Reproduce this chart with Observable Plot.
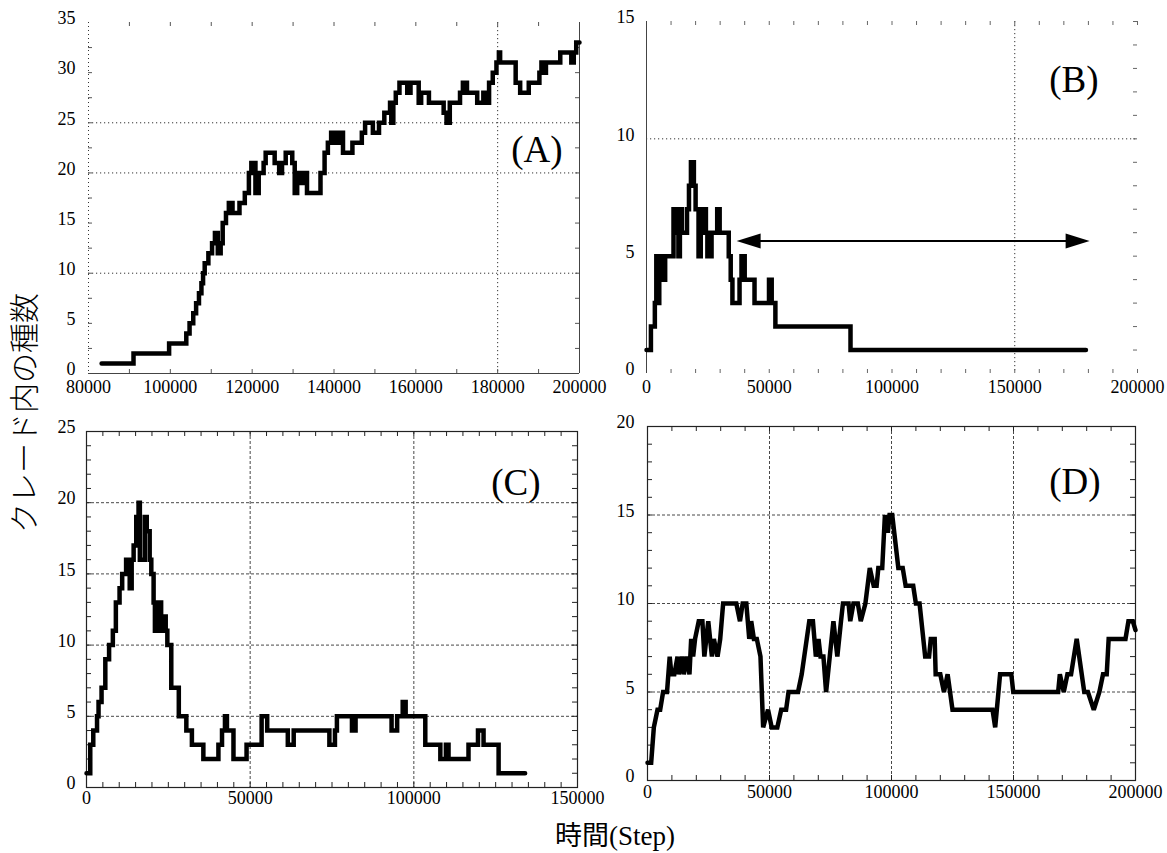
<!DOCTYPE html>
<html><head><meta charset="utf-8">
<script src="https://cdn.jsdelivr.net/npm/d3@7"></script>
<script src="https://cdn.jsdelivr.net/npm/@observablehq/plot@0.6"></script>
<style>
body{margin:0;background:#fff;}
#wrap{position:relative;width:1167px;height:853px;overflow:hidden;background:#fff;}
.panel{position:absolute;}
.panel svg text{font-family:"Liberation Serif",serif !important;}
#ytitle{position:absolute;left:22px;top:413px;transform:translate(-50%,-50%) rotate(-90deg);font-family:"Noto Sans CJK JP",sans-serif;font-size:30px;font-weight:300;white-space:nowrap;color:#000;}
#xtitle{position:absolute;left:615px;top:833px;transform:translate(-50%,-50%);font-family:"Liberation Serif","Noto Sans CJK JP",serif;font-size:27px;white-space:nowrap;color:#000;}
</style></head>
<body>
<div id="wrap">
  <div id="ytitle">クレード内の種数</div>
  <div id="xtitle">時間(Step)</div>
</div>
<script>
// ---------- data ----------
const aStep = [83200,91000,99700,103900,104700,105600,106300,107000,107600,108000,108400,109300,110200,110900,111600,112300,112800,113600,114300,115200,116900,118200,119200,119800,120800,121600,122800,123300,125500,126600,127300,128200,129800,130400,131000,131800,132600,133400,136700,137700,138500,139300,140100,141200,142200,144500,146800,147600,149500,151000,152300,153700,154000,154500,155100,156000,157900,158700,160700,161300,163200,166800,167500,168300,170800,171500,172500,175000,176500,177000,177900,178800,179700,180300,180600,184400,185500,187600,190200,190700,191100,191800,195300,198000,198600,199200,200000];
const aCount = [1,2,3,4,5,6,7,8,9,10,11,12,13,14,12,13,15,16,17,16,17,18,20,21,18,20,21,22,21,20,21,22,21,18,20,19,20,18,20,22,23,24,23,24,22,23,24,25,24,25,26,27,25,27,28,29,28,29,27,28,27,26,25,27,28,29,28,27,28,27,29,30,31,32,31,29,28,29,30,31,30,31,32,31,32,33,33];

const bStep = [0,1800,3400,4000,4600,5200,5800,6400,7000,7600,11000,12000,12600,13000,13600,14400,16500,17300,18100,19300,20000,21200,22100,23000,24200,24800,26500,28800,29800,33500,34300,35000,37900,38700,40000,44000,49900,51000,52500,83100,179000];
const bCount = [1,2,3,5,3,5,4,5,4,5,7,6,7,5,7,6,7,8,9,8,7,5,6,7,6,5,6,7,6,5,4,3,4,5,4,3,4,3,2,1,1];
const bArrow = {x1: 36700, x2: 180500, y: 5.65};

const cStep = [0,1150,2070,3220,3680,4600,5750,6900,8050,8970,10100,10900,12100,13200,13800,14400,15200,15900,16300,17800,18400,19300,19800,20500,20900,22100,22800,23200,24200,24700,25900,28200,30500,32200,35700,40300,41400,42300,42900,44900,48900,53500,55200,61500,63300,74200,75900,76500,81100,82200,93200,94900,96600,97500,103500,108100,109800,110600,116700,119600,121300,125900,134000];
const cCount = [1,3,4,5,6,7,9,10,11,13,14,15,16,14,16,17,19,20,16,19,18,16,15,13,11,13,11,12,11,10,7,5,4,3,2,3,4,5,4,2,3,5,4,3,4,3,4,5,4,5,4,5,6,5,3,2,3,2,3,4,3,1,1];

const dStep = [0,1500,2600,4100,5200,6400,8000,9100,9800,11000,12300,12900,14100,14900,16000,17200,17900,18700,19500,21000,22500,23300,24900,26400,27200,28700,29800,31000,36400,37900,39000,40500,41700,42500,43600,44800,46300,47400,49400,50900,53200,54800,56800,57800,61700,63200,66300,67800,69000,70100,70900,72100,73200,74700,76200,77800,79300,80100,82400,83100,84400,86200,87400,89300,91100,92700,93900,94600,96200,97300,98500,99200,100300,102800,104600,105800,108900,110000,111500,113800,115400,116100,117700,118100,120000,121500,123000,125000,141400,142500,144500,149100,149900,168300,169000,170600,172100,173600,175900,179000,180500,182900,185200,186700,188200,189000,195900,197100,198900,200000];
const dCount = [1,1,3,4,4,5,5,7,6,6,7,6,7,6,7,6,8,7,8,9,9,7,9,7,8,7,8,10,10,9,10,10,8,9,8,8,7,3,4,3,3,4,4,5,5,6,9,9,7,8,7,7,5,7,9,7,9,10,10,9,10,10,9,10,12,11,11,12,12,15,14,15,15,12,12,11,11,10,10,7,7,8,8,6,6,5,6,4,4,3,6,6,5,5,6,5,6,6,8,5,5,4,5,6,6,8,8,9,9,8.5];

const aXTicks = [80000,100000,120000,140000,160000,180000,200000];
const aYTicks = [0,5,10,15,20,25,30,35];
const bXTicks = [0,50000,100000,150000,200000];
const bYTicks = [0,5,10,15];
const cXTicks = [0,50000,100000,150000];
const cYTicks = [0,5,10,15,20,25];
const dXTicks = [0,50000,100000,150000,200000];
const dYTicks = [0,5,10,15,20];
const panelNames = ["(A)","(B)","(C)","(D)"];

// ---------- helpers ----------
const FONT = "Liberation Serif";
function tickMarks(fw, fh, t, len, stroke, sw) {
  const m = [];
  if (t.xb) m.push(Plot.ruleX(t.xb, {insetTop: fh - len, stroke, strokeWidth: sw}));
  if (t.xt) m.push(Plot.ruleX(t.xt, {insetBottom: fh - len, stroke, strokeWidth: sw}));
  if (t.yl) m.push(Plot.ruleY(t.yl, {insetRight: fw - len, stroke, strokeWidth: sw}));
  if (t.yr) m.push(Plot.ruleY(t.yr, {insetLeft: fw - len, stroke, strokeWidth: sw}));
  return m;
}
const headSymbol = {draw(ctx) { ctx.moveTo(0, 0); ctx.lineTo(-24, -7.5); ctx.lineTo(-24, 7.5); ctx.closePath(); }};

function panel(cfg) {
  const fw = cfg.width - cfg.ml - cfg.mr, fh = cfg.height - cfg.mt - cfg.mb;
  const marks = [
    ...cfg.back,
    ...tickMarks(fw, fh, cfg.ticks, cfg.tickLen ?? 5, cfg.tickStroke ?? "#222", cfg.tickWidth ?? 1),
    Plot.axisX(cfg.xTicks, {anchor: "bottom", tickSize: 0, tickPadding: cfg.xPad, tickFormat: d => String(d), label: null, fontSize: 18, fontFamily: FONT, fontVariant: "normal"}),
    Plot.axisY(cfg.yTicks, {anchor: "left", tickSize: 0, tickPadding: cfg.yPad, tickFormat: d => String(d), label: null, fontSize: 18, fontFamily: FONT, fontVariant: "normal", dy: -4}),
    Plot.line(cfg.xs, {x: cfg.xs, y: cfg.ys, curve: cfg.curve, stroke: "#000", strokeWidth: 4.5, strokeLinejoin: "miter", strokeMiterlimit: 3}),
    ...(cfg.extra || []),
    Plot.text([cfg.name], {text: d => d, frameAnchor: "top-right", textAnchor: "end", lineAnchor: "middle", dx: cfg.ldx, dy: cfg.ldy, fontSize: 37, fontFamily: FONT, fill: "#000"})
  ];
  const svg = Plot.plot({
    width: cfg.width, height: cfg.height,
    marginLeft: cfg.ml, marginRight: cfg.mr, marginTop: cfg.mt, marginBottom: cfg.mb,
    x: {type: "linear", domain: cfg.xDomain},
    y: {type: "linear", domain: cfg.yDomain},
    style: {fontFamily: FONT, fontSize: "18px", overflow: "visible", background: "transparent", color: "#000"},
    marks
  });
  const div = document.createElement("div");
  div.className = "panel";
  div.style.left = cfg.left + "px";
  div.style.top = cfg.top + "px";
  div.appendChild(svg);
  document.getElementById("wrap").appendChild(div);
}

const dotted = {stroke: "#333", strokeWidth: 1, strokeDasharray: "1.2,2.8"};
const dashed = {stroke: "#333", strokeWidth: 0.9, strokeDasharray: "3,2"};
const axisStroke = {stroke: "#444", strokeWidth: 1};

// (A)
panel({
  left: 0, top: 0, width: 600, height: 400, ml: 88, mr: 21, mt: 22, mb: 27,
  xDomain: [80000, 200000], yDomain: [0, 35],
  xTicks: aXTicks, yTicks: aYTicks, xPad: 7, yPad: 13,
  xs: aStep, ys: aCount, curve: "step-after", name: panelNames[0], ldx: -17, ldy: 128,
  back: [
    Plot.ruleY([10, 20, 25], dotted),
    Plot.ruleX([180000], dotted),
    Plot.ruleX([80000], {...dotted, strokeDasharray: "1,3"}),
    Plot.ruleY([0], axisStroke),
    Plot.ruleX([200000], axisStroke)
  ],
  ticks: {xb: d3.range(90000, 200000, 10000), xt: d3.range(90000, 200000, 10000), yl: d3.range(2.5, 35, 2.5), yr: d3.range(2.5, 35, 2.5)},
  tickLen: 4, tickStroke: "#555"
});

// (B)
panel({
  left: 590, top: 0, width: 577, height: 400, ml: 56, mr: 30, mt: 21, mb: 27,
  xDomain: [0, 200000], yDomain: [0, 15],
  xTicks: bXTicks, yTicks: bYTicks, xPad: 7, yPad: 12,
  xs: bStep, ys: bCount, curve: "step-after", name: panelNames[1], ldx: -39, ldy: 59,
  back: [
    Plot.ruleY([10], dotted),
    Plot.ruleX([150000], dotted),
    Plot.ruleX([0], axisStroke)
  ],
  ticks: {xb: d3.range(10000, 200001, 10000), xt: d3.range(10000, 200001, 10000), yr: d3.range(1, 16, 1)},
  tickLen: 4, tickStroke: "#666",
  extra: [
    Plot.line([bArrow.x1 + 4000, bArrow.x2 - 4000], {x: d => d, y: () => bArrow.y, stroke: "#000", strokeWidth: 2}),
    Plot.dot([{x: bArrow.x2, r: 0}, {x: bArrow.x1, r: 180}], {x: "x", y: () => bArrow.y, rotate: "r", symbol: headSymbol, fill: "#000", stroke: "none"})
  ]
});

// (C)
panel({
  left: 0, top: 400, width: 590, height: 410, ml: 86, mr: 13, mt: 31, mb: 23,
  xDomain: [0, 150000], yDomain: [0, 25],
  xTicks: cXTicks, yTicks: cYTicks, xPad: 4, yPad: 11,
  xs: cStep, ys: cCount, curve: "step-after", name: panelNames[2], ldx: -37, ldy: 52,
  back: [
    Plot.ruleY([5, 10, 15, 20], dashed),
    Plot.ruleX([50000, 100000], dashed),
    Plot.frame({stroke: "#222", strokeWidth: 1.2})
  ],
  ticks: {xb: d3.range(5000, 150000, 5000), xt: d3.range(5000, 150000, 5000), yl: d3.range(1, 25, 1), yr: d3.range(1, 25, 1)}
});

// (D)
panel({
  left: 590, top: 400, width: 577, height: 410, ml: 57, mr: 32, mt: 26, mb: 30,
  xDomain: [0, 200000], yDomain: [0, 20],
  xTicks: dXTicks, yTicks: dYTicks, xPad: 5, yPad: 13,
  xs: dStep, ys: dCount, curve: "linear", name: panelNames[3], ldx: -35, ldy: 56,
  back: [
    Plot.ruleY([5, 10, 15], dashed),
    Plot.ruleX([50000, 100000, 150000], dashed),
    Plot.frame({stroke: "#222", strokeWidth: 1.2})
  ],
  ticks: {xb: d3.range(10000, 200000, 10000), xt: d3.range(10000, 200000, 10000), yl: d3.range(1, 20, 1), yr: d3.range(1, 20, 1)}
});
</script>
</body></html>
